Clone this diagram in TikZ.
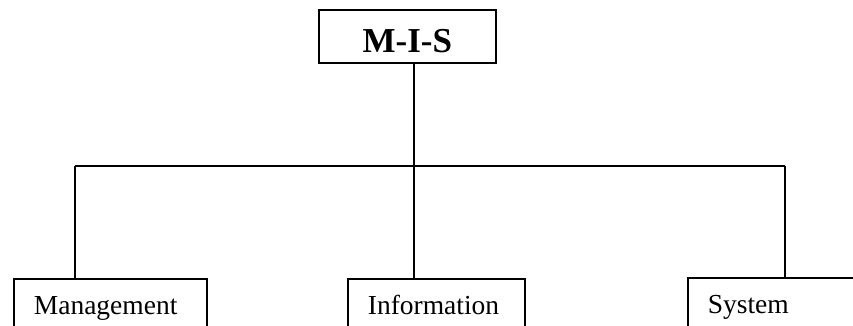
\documentclass[tikz,border=0pt]{standalone}
\usepackage{fontspec}
\setmainfont{Liberation Serif}
\begin{document}
\begin{tikzpicture}[x=1pt,y=-1pt,
  box/.style={draw,line width=1.7pt,rectangle,inner ysep=0pt,anchor=north west},
  leaf/.style={box,inner xsep=20pt,align=left,text height=36pt,text depth=30pt,
    font=\fontsize{27.5}{30}\selectfont},
  wire/.style={line width=1.7pt}]
\useasboundingbox (0,0) rectangle (853,326);
\clip (0,0) rectangle (853,326);

% root box
\node[box,inner xsep=0pt,minimum width=177pt,text height=43pt,text depth=10pt,
  font=\fontsize{35}{40}\selectfont\bfseries] (mis) at (318,9) {M-I-S};

% leaf boxes (open towards the bottom edge)
\node[leaf,text width=153pt] (mgmt) at (13,278) {Management};
\node[leaf,text width=137pt] (info) at (347,278) {Information};
\node[leaf,text width=150pt] (sys) at (687,277) {System};

% junction points on the bus line
\coordinate (jm) at (75,166);
\coordinate (ji) at (414,166);
\coordinate (js) at (785,166);

% connectors
\draw[wire] (mis.south -| ji) -- (ji);
\draw[wire] (jm) -- (js);
\draw[wire] (jm) -- (jm |- mgmt.north);
\draw[wire] (ji) -- (ji |- info.north);
\draw[wire] (js) -- (js |- sys.north);
\end{tikzpicture}
\end{document}
